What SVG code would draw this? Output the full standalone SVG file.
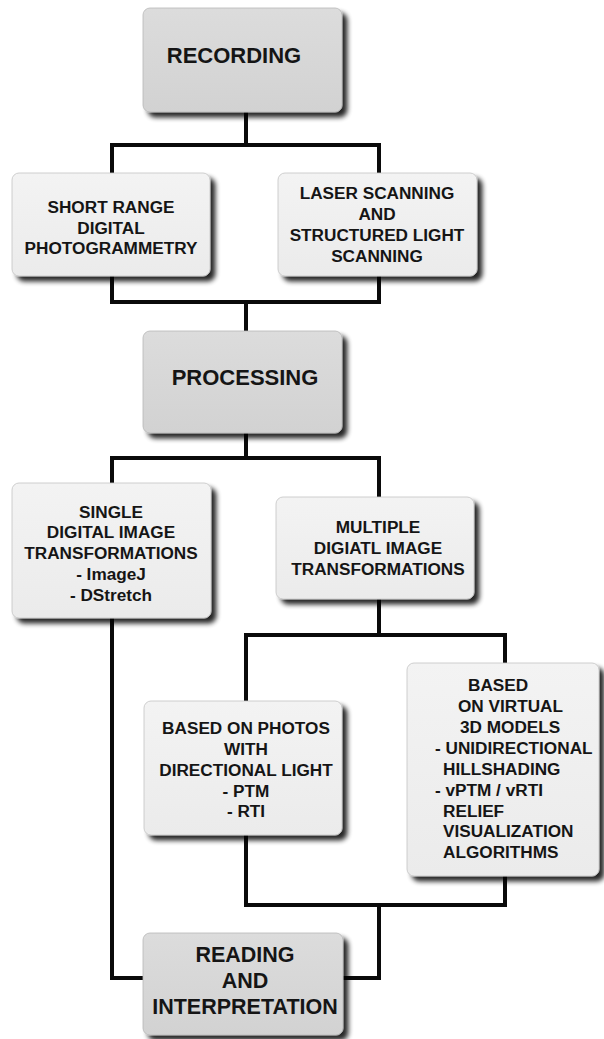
<svg xmlns="http://www.w3.org/2000/svg" width="604" height="1039" viewBox="0 0 604 1039">
<defs>
<filter id="sh" x="-10%" y="-10%" width="125%" height="125%">
<feGaussianBlur in="SourceAlpha" stdDeviation="2.5"/>
<feOffset dx="5" dy="5" result="o"/>
<feComponentTransfer><feFuncA type="linear" slope="0.85"/></feComponentTransfer>
<feMerge><feMergeNode/><feMergeNode in="SourceGraphic"/></feMerge>
</filter>
<linearGradient id="gMain" x1="0" y1="0" x2="0" y2="1">
<stop offset="0" stop-color="#dcdcdc"/><stop offset="1" stop-color="#d2d2d2"/>
</linearGradient>
<linearGradient id="gSub" x1="0" y1="0" x2="0" y2="1">
<stop offset="0" stop-color="#f3f3f3"/><stop offset="1" stop-color="#ebebeb"/>
</linearGradient>
</defs>
<style>
.main{fill:url(#gMain);stroke:#b8b8b8;stroke-width:0.8;filter:url(#sh)}
.sub{fill:url(#gSub);stroke:#c4c4c4;stroke-width:0.8;filter:url(#sh)}
.c{fill:none;stroke:#0a0a0a;stroke-width:4;stroke-linejoin:miter}
text{font-family:"Liberation Sans",Arial,sans-serif;font-weight:bold;fill:#151515}
.t1{font-size:22px;text-anchor:middle}
.t2{font-size:17.2px;text-anchor:middle}
.t3{font-size:17.2px;text-anchor:start}
</style>
<rect width="604" height="1039" fill="#ffffff"/>
<g id="connectors">
<path class="c" d="M246,112 V145"/>
<path class="c" d="M112,173 V145 H379 V173"/>
<path class="c" d="M112,276 V302 H379 V276"/>
<path class="c" d="M246,302 V331"/>
<path class="c" d="M246,433 V458"/>
<path class="c" d="M112,483 V458 H379 V497"/>
<path class="c" d="M112,618 V978 H143"/>
<path class="c" d="M379,599 V635"/>
<path class="c" d="M246,701 V635 H505 V663"/>
<path class="c" d="M246,835 V905 H505 V876"/>
<path class="c" d="M379,905 V978 H343"/>
</g>
<g id="recording">
<rect class="main" x="143" y="8" width="199" height="104" rx="7"/>
<text class="t1" x="234" y="63">RECORDING</text>
</g>
<g id="photogrammetry">
<rect class="sub" x="12" y="173" width="198" height="103" rx="7"/>
<text class="t2" x="111" y="213">SHORT RANGE</text>
<text class="t2" x="111" y="233.5">DIGITAL</text>
<text class="t2" x="111" y="254">PHOTOGRAMMETRY</text>
</g>
<g id="laser">
<rect class="sub" x="278" y="173" width="199" height="103" rx="7"/>
<text class="t2" x="377" y="199">LASER SCANNING</text>
<text class="t2" x="377" y="220">AND</text>
<text class="t2" x="377" y="241">STRUCTURED LIGHT</text>
<text class="t2" x="377" y="261.5">SCANNING</text>
</g>
<g id="processing">
<rect class="main" x="143" y="331" width="199" height="102" rx="7"/>
<text class="t1" x="245" y="385">PROCESSING</text>
</g>
<g id="single">
<rect class="sub" x="12" y="483" width="199" height="135" rx="7"/>
<text class="t2" x="111" y="517.5">SINGLE</text>
<text class="t2" x="111" y="538">DIGITAL IMAGE</text>
<text class="t2" x="111" y="559">TRANSFORMATIONS</text>
<text class="t2" x="111" y="580">- ImageJ</text>
<text class="t2" x="111" y="601">- DStretch</text>
</g>
<g id="multiple">
<rect class="sub" x="276" y="497" width="198" height="102" rx="7"/>
<text class="t2" x="378" y="533">MULTIPLE</text>
<text class="t2" x="378" y="554">DIGIATL IMAGE</text>
<text class="t2" x="378" y="575">TRANSFORMATIONS</text>
</g>
<g id="photos">
<rect class="sub" x="144" y="701" width="198" height="134" rx="7"/>
<text class="t2" x="246" y="734">BASED ON PHOTOS</text>
<text class="t2" x="246" y="754.5">WITH</text>
<text class="t2" x="246" y="775.5">DIRECTIONAL LIGHT</text>
<text class="t2" x="246" y="796.5">- PTM</text>
<text class="t2" x="246" y="817">- RTI</text>
</g>
<g id="virtual">
<rect class="sub" x="407" y="663" width="192" height="213" rx="7"/>
<text class="t3" x="468" y="691">BASED</text>
<text class="t3" x="458" y="712">ON VIRTUAL</text>
<text class="t3" x="460" y="733">3D MODELS</text>
<text class="t3" x="435" y="754">- UNIDIRECTIONAL</text>
<text class="t3" x="443" y="775">HILLSHADING</text>
<text class="t3" x="435" y="795.5">- vPTM / vRTI</text>
<text class="t3" x="443" y="816.5">RELIEF</text>
<text class="t3" x="443" y="837">VISUALIZATION</text>
<text class="t3" x="443" y="858">ALGORITHMS</text>
</g>
<g id="reading">
<rect class="main" x="143" y="933" width="200" height="102" rx="7"/>
<text class="t1" x="245" y="962" style="font-size:21.5px">READING</text>
<text class="t1" x="245" y="988" style="font-size:21.5px">AND</text>
<text class="t1" x="245" y="1014" style="font-size:21.5px">INTERPRETATION</text>
</g>
</svg>
